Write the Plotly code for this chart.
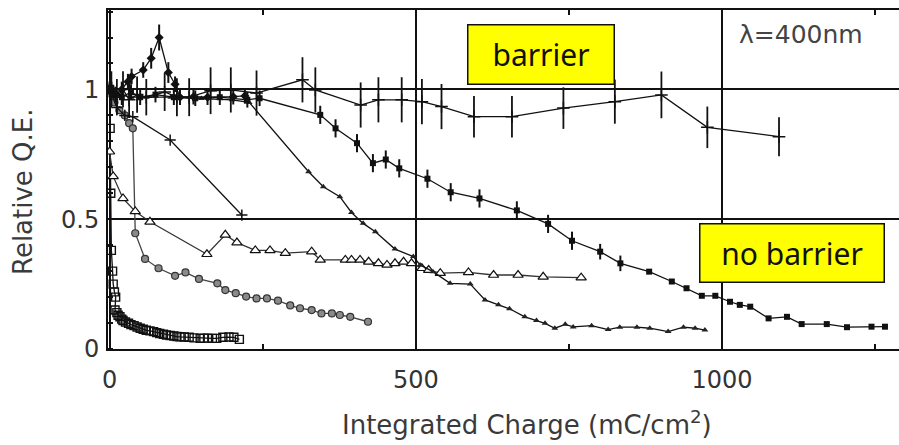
import plotly.graph_objects as go

# Relative quantum efficiency vs integrated charge, lambda = 400 nm

# barrier sample (large error bars)
bar_x = [3, 12, 22, 32, 45, 60, 90, 110, 130, 165, 198, 240, 315, 336, 410, 439, 477, 510, 542, 595, 657, 741, 825, 901, 976, 1093]
bar_y = [1.0, 0.97, 1.0, 0.96, 0.98, 0.97, 0.99, 0.97, 0.97, 0.995, 0.998, 0.986, 1.037, 0.998, 0.94, 0.96, 0.96, 0.953, 0.934, 0.895, 0.895, 0.928, 0.953, 0.979, 0.854, 0.818]
bar_err = [0.07, 0.07, 0.07, 0.07, 0.07, 0.07, 0.073, 0.073, 0.073, 0.09, 0.087, 0.087, 0.087, 0.087, 0.087, 0.087, 0.087, 0.087, 0.087, 0.08, 0.08, 0.08, 0.085, 0.09, 0.08, 0.075]

# filled squares, long run
sq_x = [3, 10, 20, 35, 50, 75, 105, 140, 180, 225, 245, 344, 369, 404, 430, 451, 473, 519, 557, 604, 665, 716, 755, 801, 834, 881, 918, 942, 967, 989, 1013, 1029, 1046, 1076, 1106, 1130, 1171, 1204, 1244, 1266]
sq_y = [1.0, 0.98, 0.97, 0.99, 0.97, 0.98, 0.97, 0.966, 0.97, 0.96, 0.966, 0.902, 0.85, 0.793, 0.716, 0.73, 0.696, 0.656, 0.604, 0.58, 0.534, 0.482, 0.417, 0.375, 0.33, 0.298, 0.26, 0.234, 0.205, 0.205, 0.182, 0.17, 0.163, 0.118, 0.124, 0.096, 0.096, 0.084, 0.086, 0.086]
sq_err = [0.03, 0.03, 0.03, 0.03, 0.03, 0.03, 0.03, 0.03, 0.03, 0.03, 0.03, 0.035, 0.035, 0.035, 0.035, 0.035, 0.035, 0.035, 0.035, 0.035, 0.035, 0.035, 0.035, 0.03, 0.03, 0, 0, 0, 0, 0, 0, 0, 0, 0, 0, 0, 0, 0, 0, 0]

# small filled triangles
tri_x = [3, 15, 35, 60, 100, 150, 200, 228, 325, 349, 376, 395, 414, 434, 466, 496, 507, 528, 556, 589, 613, 635, 653, 678, 697, 711, 727, 744, 757, 787, 814, 833, 861, 882, 912, 937, 956, 972]
tri_y = [1.0, 0.98, 0.97, 0.97, 0.97, 0.965, 0.96, 0.95, 0.683, 0.625, 0.587, 0.526, 0.484, 0.452, 0.385, 0.356, 0.324, 0.298, 0.253, 0.25, 0.189, 0.17, 0.155, 0.124, 0.11, 0.099, 0.08, 0.095, 0.085, 0.09, 0.075, 0.084, 0.084, 0.08, 0.067, 0.084, 0.08, 0.073]

# small crosses
cr_x = [0, 12, 25, 38, 99, 216]
cr_y = [1.0, 0.93, 0.9, 0.895, 0.805, 0.516]

# diamonds with the early peak
dm_x = [0, 10, 20, 30, 36, 55, 68, 81, 96, 107, 115, 137, 160, 202, 221]
dm_y = [1.0, 0.98, 1.0, 1.03, 1.05, 1.075, 1.12, 1.2, 1.065, 1.02, 0.97, 0.972, 0.97, 0.972, 0.975]
dm_err = [0.03, 0.03, 0.03, 0.03, 0.03, 0.03, 0.04, 0.05, 0.04, 0.03, 0.03, 0.03, 0.03, 0.03, 0.03]

# open triangles
ot_x = [0, 6, 22, 42, 66, 159, 189, 208, 238, 262, 287, 330, 344, 385, 395, 409, 423, 439, 453, 466, 480, 493, 510, 521, 540, 586, 627, 667, 708, 770]
ot_y = [0.76, 0.665, 0.58, 0.53, 0.49, 0.365, 0.44, 0.41, 0.38, 0.38, 0.369, 0.375, 0.343, 0.343, 0.343, 0.343, 0.336, 0.33, 0.324, 0.33, 0.336, 0.33, 0.311, 0.304, 0.292, 0.295, 0.285, 0.285, 0.278, 0.275]

# open circles
oc_x = [1, 8, 16, 25, 32, 38, 42, 58, 80, 107, 124, 146, 176, 189, 206, 223, 240, 257, 275, 295, 311, 330, 346, 363, 376, 393, 422]
oc_y = [1.0, 0.95, 0.92, 0.9, 0.87, 0.85, 0.446, 0.347, 0.311, 0.282, 0.295, 0.27, 0.253, 0.227, 0.215, 0.202, 0.195, 0.195, 0.186, 0.168, 0.157, 0.15, 0.137, 0.137, 0.131, 0.124, 0.105]

# open squares, fast decay
os_x = [0, 1, 2, 3, 5, 6, 8, 10, 9, 12, 14, 17, 20, 22, 26, 31, 35, 40, 45, 50, 55, 60, 66, 72, 77, 82, 88, 93, 99, 105, 110, 115, 122, 130, 138, 148, 154, 160, 168, 175, 185, 195, 203, 212]
os_y = [1.0, 0.85, 0.6, 0.38, 0.3, 0.25, 0.22, 0.2, 0.15, 0.14, 0.13, 0.124, 0.115, 0.11, 0.104, 0.099, 0.094, 0.09, 0.085, 0.08, 0.076, 0.072, 0.07, 0.067, 0.063, 0.06, 0.057, 0.054, 0.052, 0.05, 0.048, 0.047, 0.046, 0.045, 0.043, 0.041, 0.042, 0.042, 0.041, 0.041, 0.045, 0.046, 0.045, 0.037]

x_ticks = [0, 500, 1000]
y_ticks = [0, 0.5, 1]
y_tick_text = ["0", "0.5", "1"]

INK = "#111111"
LINE = dict(color=INK, width=1.3)

fig = go.Figure()

fig.add_trace(go.Scatter(
    x=os_x, y=os_y, mode="lines+markers", line=LINE,
    marker=dict(symbol="square-open", size=8, color=INK, line=dict(width=1.4))))
fig.add_trace(go.Scatter(
    x=oc_x, y=oc_y, mode="lines+markers", line=dict(color="#444444", width=1.3),
    marker=dict(symbol="circle", size=7, color="#8a8a8a", line=dict(color="#333333", width=1.2))))
fig.add_trace(go.Scatter(
    x=ot_x, y=ot_y, mode="lines+markers", line=dict(color="#333333", width=1.3),
    marker=dict(symbol="triangle-up", size=9, color="white", line=dict(color=INK, width=1.2))))
fig.add_trace(go.Scatter(
    x=tri_x, y=tri_y, mode="lines+markers", line=LINE,
    marker=dict(symbol="triangle-up", size=6, color="#222222")))
fig.add_trace(go.Scatter(
    x=cr_x, y=cr_y, mode="lines+markers", line=LINE,
    marker=dict(symbol="cross-thin", size=8, color=INK, line=dict(color=INK, width=1.5))))
fig.add_trace(go.Scatter(
    x=sq_x, y=sq_y, mode="lines+markers", line=LINE,
    marker=dict(symbol="square", size=6, color=INK),
    error_y=dict(type="data", array=sq_err, width=0, thickness=2, color=INK)))
fig.add_trace(go.Scatter(
    x=dm_x, y=dm_y, mode="lines+markers", line=LINE,
    marker=dict(symbol="diamond", size=7, color=INK),
    error_y=dict(type="data", array=dm_err, width=0, thickness=2, color=INK)))
fig.add_trace(go.Scatter(
    x=bar_x, y=bar_y, mode="lines+markers", line=LINE,
    marker=dict(symbol="cross-thin", size=9, color=INK, line=dict(color=INK, width=1.5)),
    error_y=dict(type="data", array=bar_err, width=0, thickness=1.8, color=INK)))

TICKFONT = dict(family="DejaVu Sans", size=24, color="#333333")

fig.update_xaxes(
    range=[-2.5, 1288.9], tickvals=x_ticks, ticktext=[str(v) for v in x_ticks],
    showgrid=True, gridcolor=INK, gridwidth=2, zeroline=False,
    showline=True, linecolor=INK, linewidth=2, mirror="allticks",
    ticks="", tickfont=TICKFONT, ticklabelstandoff=8,
    minor=dict(dtick=250, ticks="inside", ticklen=5, tickcolor=INK, tickwidth=2, showgrid=False),
)
fig.update_yaxes(
    range=[0, 1.306], tickvals=y_ticks, ticktext=y_tick_text,
    showgrid=True, gridcolor=INK, gridwidth=2, zeroline=False,
    showline=True, linecolor=INK, linewidth=2, mirror=False,
    ticks="", tickfont=TICKFONT, ticklabelstandoff=2,
    minor=dict(dtick=0.1, ticks="inside", ticklen=5, tickcolor=INK, tickwidth=1.5, showgrid=False),
)

fig.add_annotation(
    text="Integrated Charge (mC/cm<sup>2</sup>)", xref="paper", yref="paper",
    x=(527 - 108) / 791, y=-(423 - 349) / 339, xanchor="center", yanchor="middle",
    showarrow=False, font=dict(family="DejaVu Sans", size=26, color="#3a3a3a"))
fig.add_annotation(
    text="Relative Q.E.", xref="paper", yref="paper",
    x=-(108 - 23) / 791, y=(349 - 192) / 339, xanchor="center", yanchor="middle",
    textangle=-90, showarrow=False, font=dict(family="DejaVu Sans", size=26, color="#3a3a3a"))
fig.add_annotation(
    text="λ=400nm", x=1129, y=1.21, xanchor="center", yanchor="middle",
    showarrow=False, font=dict(family="DejaVu Sans", size=25, color="#444444"))
fig.add_annotation(
    text="barrier", x=703.7, y=1.133, xanchor="center", yanchor="middle",
    showarrow=False, bgcolor="#ffff00", bordercolor=INK, borderwidth=1.5, borderpad=1,
    width=143, height=56, font=dict(family="Noto Sans", size=30, color="#111111"))
fig.add_annotation(
    text="no barrier", x=1115, y=0.368, xanchor="center", yanchor="middle",
    showarrow=False, bgcolor="#ffff00", bordercolor=INK, borderwidth=1.5, borderpad=1,
    width=181, height=55, font=dict(family="Noto Sans", size=30, color="#111111"))

fig.update_layout(
    width=899, height=445, showlegend=False,
    margin=dict(l=108, r=0, t=10, b=96),
    paper_bgcolor="white", plot_bgcolor="white",
)

fig.write_html("out.html")
